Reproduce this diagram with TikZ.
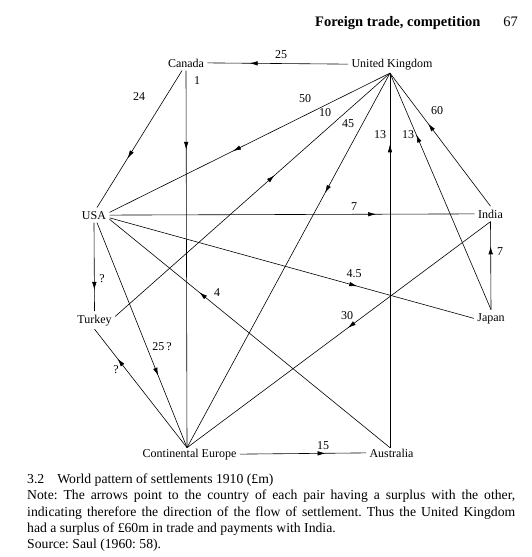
\documentclass[tikz,border=0pt]{standalone}
\usepackage{fontspec}
\setmainfont{Liberation Serif}
\usetikzlibrary{arrows.meta,decorations.markings}
\frenchspacing

\begin{document}
\begin{tikzpicture}[x=1pt,y=-1pt,
  country/.style={inner sep=2pt,outer sep=1.5pt,anchor=base,font=\fontsize{12}{14}\selectfont},
  val/.style={inner sep=0pt,font=\fontsize{12}{14}\selectfont},
  capline/.style={inner sep=0pt,anchor=base west,font=\fontsize{13.7}{16}\selectfont},
  flow/.style={line width=.6pt,postaction={decorate},
    decoration={markings,mark=at position #1 with {\arrow{Latex[length=8pt,width=4.5pt]}}}}]
\useasboundingbox (0,0) rectangle (531,557);
% running head
\node[anchor=base west,inner sep=0pt,font=\fontsize{14.5}{17}\selectfont\bfseries] (head) at (315,26) {Foreign trade, competition};
\node[anchor=base east,inner sep=0pt,font=\fontsize{14.5}{17}\selectfont] (page) at (518,26) {67};
% countries
\node[country] (canada) at (186,67) {Canada};
\node[country] (uk) at (392,67) {United Kingdom};
\node[country] (usa) at (94,219) {USA};
\node[country] (india) at (490.5,218) {India};
\node[country] (turkey) at (94.5,323) {Turkey};
\node[country] (japan) at (491,321) {Japan};
\node[country] (ce) at (189.5,457) {Continental Europe};
\node[country] (australia) at (391.5,457) {Australia};
\coordinate (uk bot) at ([xshift=-2pt]uk.south);
\coordinate (ce top) at ([xshift=-2.5pt,yshift=-2.5pt]ce.north);
\coordinate (au top) at ([xshift=-1.5pt,yshift=-2.5pt]australia.north);
% settlements, arrow towards the country with the surplus
\draw[flow=.70] (uk.west) -- (canada.east);
\draw[flow=.21] (canada.south) -- (ce top);
\draw[flow=.64] ([xshift=-4pt]canada.south) -- ([xshift=3pt]usa.north);
\draw[flow=.56] (uk bot) -- (usa.10);
\draw[flow=.58] (turkey.10) -- (uk bot);
\draw[flow=.32] (uk bot) -- (ce top);
\draw[flow=.81] (au top) -- (uk bot);
\draw[flow=.74] (japan.north) -- (uk bot);
\draw[flow=.62] (india.north) -- (uk bot);
\draw[flow=.73] (usa.east) -- (india.west);
\draw[flow=.68] (usa.-10) -- (japan.west);
\draw[flow=.68] (au top) -- (usa.-15);
\draw[flow=.76] (usa.south) -- (turkey.north);
\draw[flow=.68] ([xshift=3pt]usa.south) -- (ce top);
\draw[flow=.75] (ce top) -- (turkey.south);
\draw[flow=.47] (india.south) -- (ce top);
\draw[flow=.72] (japan.north) -- (india.south);
\draw[flow=.68] (ce.east) -- (australia.west);
% amounts
\node[val] (v25) at (281,55) {25};
\node[val] (v1) at (197,81) {1};
\node[val] (v24) at (139,97) {24};
\node[val] (v50) at (305,99) {50};
\node[val] (v10) at (325,113) {10};
\node[val] (v45) at (348,124) {45};
\node[val] (v13a) at (380,135) {13};
\node[val] (v13b) at (408,135) {13};
\node[val] (v60) at (437,111) {60};
\node[val] (v7a) at (354,207) {7};
\node[val] (v4.5) at (354,274) {4.5};
\node[val] (v30) at (347,316) {30};
\node[val] (v7b) at (500,252) {7};
\node[val] (vq1) at (102,279) {?};
\node[val] (v4) at (217,293) {4};
\node[val] (v25q) at (162,347) {25\,?};
\node[val] (vq2) at (116,370) {?};
\node[val] (v15) at (323,446) {15};
% caption
\node[capline] (cap1) at (27,483) {3.2\hspace{0.95em}World pattern of settlements 1910 (£m)};
\node[capline] (cap2) at (27,499) {\makebox[488pt][s]{Note: The arrows point to the country of each pair having a surplus with the other,}};
\node[capline] (cap3) at (27,516) {\makebox[488pt][s]{indicating therefore the direction of the flow of settlement. Thus the United Kingdom}};
\node[capline] (cap4) at (27,532) {had a surplus of £60m in trade and payments with India.};
\node[capline] (cap5) at (27,548) {Source: Saul (1960: 58).};
\end{tikzpicture}
\end{document}
